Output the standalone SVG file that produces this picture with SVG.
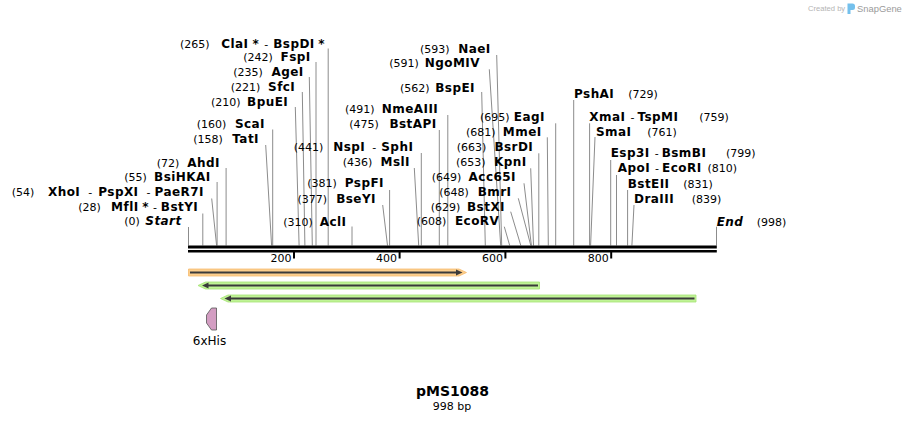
<svg xmlns="http://www.w3.org/2000/svg" width="905" height="422" viewBox="0 0 905 422">
<style>
text{font-family:"DejaVu Sans","Noto Sans",sans-serif;font-size:11px;fill:#000}
.b{font-weight:bold;font-size:12px;letter-spacing:0.45px}
.r{font-weight:normal;font-size:11px;letter-spacing:0}
.e{text-anchor:end}
.it{font-style:italic}
.ln{stroke:#8c8c8c;stroke-width:1;fill:none}
.tk{fill:#000}
.core{stroke:#3a3a3a;stroke-width:2;fill:none}
.head{fill:#3a3a3a}
.org{fill:#fcce8c;stroke:#f6bb6e;stroke-width:0.8}
.grn{fill:#c0f396;stroke:#a4e273;stroke-width:0.8}
.ttl{font-weight:bold;font-size:14px}
.wm1{font-family:"Liberation Sans",Arial,sans-serif;font-size:7.6px;fill:#b4b4b4}
.wm2{font-family:"Liberation Sans",Arial,sans-serif;font-size:9.4px;fill:#9a9a9a}
</style>

<g id="watermark">
<text class="wm1" x="808" y="10.5">Created by</text>
<path d="M847.5,3.5 h5 q2.5,0 2.5,2.5 v1.5 q0,2.5 -2.5,2.5 h-2 v4 h-3 z" fill="#74c0ec"/>
<text class="wm2" x="857" y="11.5">SnapGene</text>
</g>

<g id="connectors">
<path class="ln" d="M328.2,48.5 L328.2,245.5"/>
<path class="ln" d="M316,62 L316,245.5"/>
<path class="ln" d="M309.3,77 L312.3,245.5"/>
<path class="ln" d="M302.3,92 L304.9,245.5"/>
<path class="ln" d="M295.3,107 L299.1,245.5"/>
<path class="ln" d="M272.7,129.5 L272.7,245.5"/>
<path class="ln" d="M265.7,145 L271.6,245.5"/>
<path class="ln" d="M226.1,168 L226.1,245.5"/>
<path class="ln" d="M217.1,182 L217.1,245.5"/>
<path class="ln" d="M211.7,198.5 L216.6,245.5"/>
<path class="ln" d="M202.8,213.5 L202.8,245.5"/>
<path class="ln" d="M188.5,227 L188.5,245.5"/>
<path class="ln" d="M496.7,55 L501.7,245.5"/>
<path class="ln" d="M489.3,69.3 L500.7,245.5"/>
<path class="ln" d="M481.7,92 L485.3,245.5"/>
<path class="ln" d="M447.8,115 L447.8,245.5"/>
<path class="ln" d="M439.3,130 L439.3,245.5"/>
<path class="ln" d="M421.3,153 L421.3,245.5"/>
<path class="ln" d="M414.3,168 L418.7,245.5"/>
<path class="ln" d="M389.6,190 L389.6,245.5"/>
<path class="ln" d="M382.7,205 L387.5,245.5"/>
<path class="ln" d="M352,226.5 L352,245.5"/>
<path class="ln" d="M555.7,123.3 L555.7,245.5"/>
<path class="ln" d="M547.3,137.3 L548.3,245.5"/>
<path class="ln" d="M538.8,153.3 L538.8,245.5"/>
<path class="ln" d="M530.7,168.3 L533.5,245.5"/>
<path class="ln" d="M524,183.3 L531.4,245.5"/>
<path class="ln" d="M518.3,198.3 L530.8,245.5"/>
<path class="ln" d="M510.7,211.7 L520.8,245.5"/>
<path class="ln" d="M504.3,226.7 L509.7,245.5"/>
<path class="ln" d="M573.7,100 L573.7,245.5"/>
<path class="ln" d="M589.6,123.3 L589.6,245.5"/>
<path class="ln" d="M595,137 L590.6,245.5"/>
<path class="ln" d="M610.7,160 L610.7,245.5"/>
<path class="ln" d="M616.5,175 L616.5,245.5"/>
<path class="ln" d="M627.6,190 L627.6,245.5"/>
<path class="ln" d="M634,205 L631.9,245.5"/>
<path class="ln" d="M716.5,226.7 L716.5,245.5"/>
</g>

<g id="ruler">
<rect x="188" y="245.5" width="528.8" height="3" fill="#000"/>
<rect x="188" y="250" width="528.8" height="2.5" fill="#000"/>
<rect class="tk" x="293" y="252" width="2" height="6.5"/>
<rect class="tk" x="398.6" y="252" width="2" height="6.5"/>
<rect class="tk" x="504.4" y="252" width="2" height="6.5"/>
<rect class="tk" x="610.2" y="252" width="2" height="6.5"/>
<text x="291.5" y="261.5" text-anchor="end">200</text>
<text x="397.1" y="261.5" text-anchor="end">400</text>
<text x="502.9" y="261.5" text-anchor="end">600</text>
<text x="608.7" y="261.5" text-anchor="end">800</text>
</g>

<g id="enz-ClaI"><text x="180" y="47.5">(265)</text><text class="b e" x="325" y="47.5">ClaI<tspan dx="4">*</tspan><tspan class="r" dx="5">-</tspan><tspan dx="5">BspDI</tspan><tspan dx="3.5">*</tspan></text></g>
<g id="enz-FspI"><text x="243.3" y="61">(242)</text><text class="b e" x="310.7" y="61">FspI</text></g>
<g id="enz-AgeI"><text x="233.3" y="76">(235)</text><text class="b e" x="303.7" y="76">AgeI</text></g>
<g id="enz-SfcI"><text x="230.7" y="91">(221)</text><text class="b e" x="295.3" y="91">SfcI</text></g>
<g id="enz-BpuEI"><text x="211" y="106">(210)</text><text class="b e" x="288.3" y="106">BpuEI</text></g>
<g id="enz-ScaI"><text x="196.7" y="128">(160)</text><text class="b e" x="265" y="128">ScaI</text></g>
<g id="enz-TatI"><text x="193.3" y="142.5">(158)</text><text class="b e" x="259" y="142.5">TatI</text></g>
<g id="enz-AhdI"><text x="156.7" y="166.5">(72)</text><text class="b e" x="220" y="166.5">AhdI</text></g>
<g id="enz-BsiHKAI"><text x="124.3" y="181">(55)</text><text class="b e" x="210.7" y="181">BsiHKAI</text></g>
<g id="enz-XhoI"><text x="11.7" y="196">(54)</text><text class="b e" x="204" y="196">XhoI<tspan class="r" dx="8">-</tspan><tspan dx="6">PspXI</tspan><tspan class="r" dx="8">-</tspan><tspan dx="4">PaeR7I</tspan></text></g>
<g id="enz-MflI"><text x="78.3" y="211">(28)</text><text class="b e" x="198.3" y="211">MflI<tspan dx="3.5">*</tspan><tspan class="r" dx="4">-</tspan><tspan dx="4">BstYI</tspan></text></g>
<g id="site-Start"><text x="124.3" y="225">(0)</text><text class="b e it" x="181.7" y="225">Start</text></g>

<g id="enz-NaeI"><text x="420" y="52.5">(593)</text><text class="b e" x="490.7" y="52.5">NaeI</text></g>
<g id="enz-NgoMIV"><text x="389.3" y="66.5">(591)</text><text class="b e" x="480" y="66.5">NgoMIV</text></g>
<g id="enz-BspEI"><text x="400" y="91.5">(562)</text><text class="b e" x="475" y="91.5">BspEI</text></g>
<g id="enz-NmeAIII"><text x="345" y="113">(491)</text><text class="b e" x="438.3" y="113">NmeAIII</text></g>
<g id="enz-BstAPI"><text x="349.3" y="128">(475)</text><text class="b e" x="436.7" y="128">BstAPI</text></g>
<g id="enz-NspI"><text x="293.7" y="150.7">(441)</text><text class="b e" x="413.3" y="150.7">NspI<tspan class="r" dx="7">-</tspan><tspan dx="5">SphI</tspan></text></g>
<g id="enz-MslI"><text x="342.7" y="165.7">(436)</text><text class="b e" x="410" y="165.7">MslI</text></g>
<g id="enz-PspFI"><text x="307.3" y="187.3">(381)</text><text class="b e" x="384" y="187.3">PspFI</text></g>
<g id="enz-BseYI"><text x="297.5" y="203">(377)</text><text class="b e" x="376" y="203">BseYI</text></g>
<g id="enz-AclI"><text x="283.3" y="225.5">(310)</text><text class="b e" x="346.5" y="225.5">AclI</text></g>
<g id="enz-EagI"><text x="480" y="121.3">(695)</text><text class="b e" x="545" y="121.3">EagI</text></g>
<g id="enz-MmeI"><text x="466" y="135.7">(681)</text><text class="b e" x="541.7" y="135.7">MmeI</text></g>
<g id="enz-BsrDI"><text x="456.7" y="150.7">(663)</text><text class="b e" x="533.3" y="150.7">BsrDI</text></g>
<g id="enz-KpnI"><text x="456" y="165.7">(653)</text><text class="b e" x="526.7" y="165.7">KpnI</text></g>
<g id="enz-Acc65I"><text x="431.7" y="180.7">(649)</text><text class="b e" x="516" y="180.7">Acc65I</text></g>
<g id="enz-BmrI"><text x="439.3" y="195.7">(648)</text><text class="b e" x="511.5" y="195.7">BmrI</text></g>
<g id="enz-BstXI"><text x="430.7" y="210.7">(629)</text><text class="b e" x="505" y="210.7">BstXI</text></g>
<g id="enz-EcoRV"><text x="416.7" y="224.7">(608)</text><text class="b e" x="499.3" y="224.7">EcoRV</text></g>

<g id="enz-PshAI"><text class="b" x="574" y="97.5">PshAI</text><text x="628.3" y="97.5">(729)</text></g>
<g id="enz-XmaI"><text class="b" x="589.3" y="121.3">XmaI<tspan class="r" dx="5">-</tspan><tspan dx="3">TspMI</tspan></text><text x="699.3" y="121.3">(759)</text></g>
<g id="enz-SmaI"><text class="b" x="596" y="135.7">SmaI</text><text x="647.3" y="135.7">(761)</text></g>
<g id="enz-Esp3I"><text class="b" x="610.7" y="157.3">Esp3I<tspan class="r" dx="5">-</tspan><tspan dx="3">BsmBI</tspan></text><text x="726" y="157.3">(799)</text></g>
<g id="enz-ApoI"><text class="b" x="617.7" y="172.3">ApoI<tspan class="r" dx="5">-</tspan><tspan dx="3">EcoRI</tspan></text><text x="707.5" y="172.3">(810)</text></g>
<g id="enz-BstEII"><text class="b" x="627.7" y="188">BstEII</text><text x="683.3" y="188">(831)</text></g>
<g id="enz-DraIII"><text class="b" x="634" y="202.7">DraIII</text><text x="691.7" y="202.7">(839)</text></g>
<g id="site-End"><text class="b it" x="716.7" y="225.7">End</text><text x="756.7" y="225.7">(998)</text></g>

<g id="feature-orange">
<polygon class="org" points="188.5,269 459,269 466.5,272.5 459,276 188.5,276"/>
<path class="core" d="M190,272.5 L458,272.5"/>
<polygon class="head" points="456,269.5 462.5,272.5 456,275.5"/>
</g>
<g id="feature-green1">
<polygon class="grn" points="198,285.5 205.5,282 539.5,282 539.5,289 205.5,289"/>
<path class="core" d="M206,285.5 L538,285.5"/>
<polygon class="head" points="202,285.5 208.5,282.5 208.5,288.5"/>
</g>
<g id="feature-green2">
<polygon class="grn" points="220.5,298.5 228,295 696,295 696,302 228,302"/>
<path class="core" d="M228.5,298.5 L694.5,298.5"/>
<polygon class="head" points="224.5,298.5 231,295.5 231,301.5"/>
</g>
<g id="feature-6xHis">
<polygon points="211.5,308 216.5,308 216.5,330 211.5,330 206.5,323 206.5,315" fill="#d39dc2" stroke="#555" stroke-width="0.8"/>
<text x="209.5" y="344.5" text-anchor="middle" style="font-size:12px">6xHis</text>
</g>

<g id="title">
<text class="ttl" x="452.5" y="395.5" text-anchor="middle">pMS1088</text>
<text x="452" y="409.5" text-anchor="middle">998 bp</text>
</g>
</svg>
